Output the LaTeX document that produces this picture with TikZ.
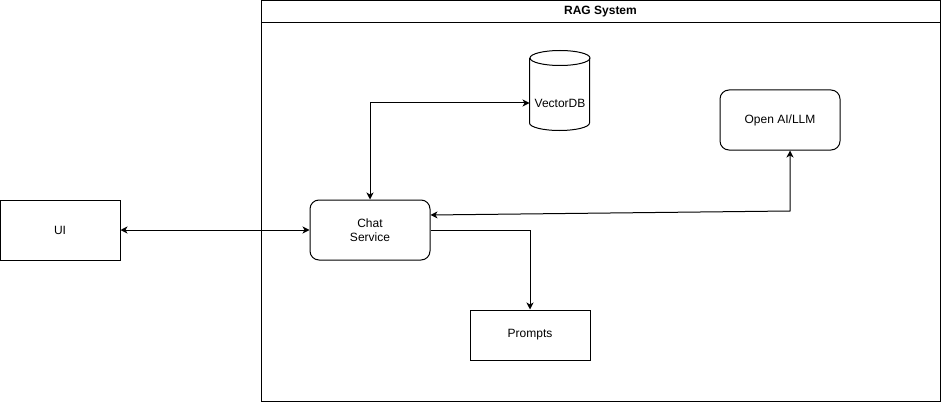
\documentclass[tikz,border=0pt]{standalone}
\usepackage{fontspec}
\setmainfont{Liberation Sans}
\usepackage{tikz}
\usetikzlibrary{arrows.meta, positioning}

\begin{document}
\begin{tikzpicture}[x=1pt, y=-1pt, line width=1pt,
    font=\fontsize{12}{14.5}\selectfont,
    box/.style={draw, minimum width=120pt, minimum height=60pt, align=center},
    rbox/.style={box, rounded corners=9pt},
    tip/.style={-{Stealth[length=7pt, width=7pt, inset=2pt]}},
    both/.style={{Stealth[length=7pt, width=7pt, inset=2pt]}-{Stealth[length=7pt, width=7pt, inset=2pt]}}]
    \useasboundingbox (0,0) rectangle (941,401);
    % container
    \node (rag) [draw, minimum width=679pt, minimum height=400pt, anchor=north west] at (260.5,0.5) {};
    \node (title) [draw, minimum width=679pt, minimum height=22pt, anchor=north, font=\fontsize{12}{14.5}\selectfont\bfseries] at (rag.north) {RAG System};
    % nodes
    \node (ui) [box] at (60,230) {UI};
    \node (chat) [rbox] at (370,230) {Chat\\Service};
    \node (llm) [rbox] at (780,120) {Open AI/LLM};
    \node (prm) [box, minimum height=50pt] at (530,335) {Prompts};
    \node (vdb) [minimum width=60pt, minimum height=54pt, inner sep=0pt] at (560,103) {VectorDB};
    % cylinder outline round vdb
    \draw ([yshift=7.5pt]vdb.south west) -- ++(0,-65)
          ([yshift=7.5pt]vdb.south west) arc [start angle=180, end angle=0, x radius=30, y radius=7.5] -- ++(0,-65);
    \draw ([yshift=72.5pt]vdb.south) ellipse [x radius=30, y radius=7.5];
    \coordinate (llmturn) at (790,211);
    % connectors
    \path [both] (ui) edge (chat);
    \draw [both] (chat.north) |- (vdb.west);
    \draw [both] ([yshift=15pt]chat.east) -- (llmturn) -- ([xshift=10pt]llm.south);
    \draw [tip] (chat.east) -| (prm.north);
\end{tikzpicture}
\end{document}
